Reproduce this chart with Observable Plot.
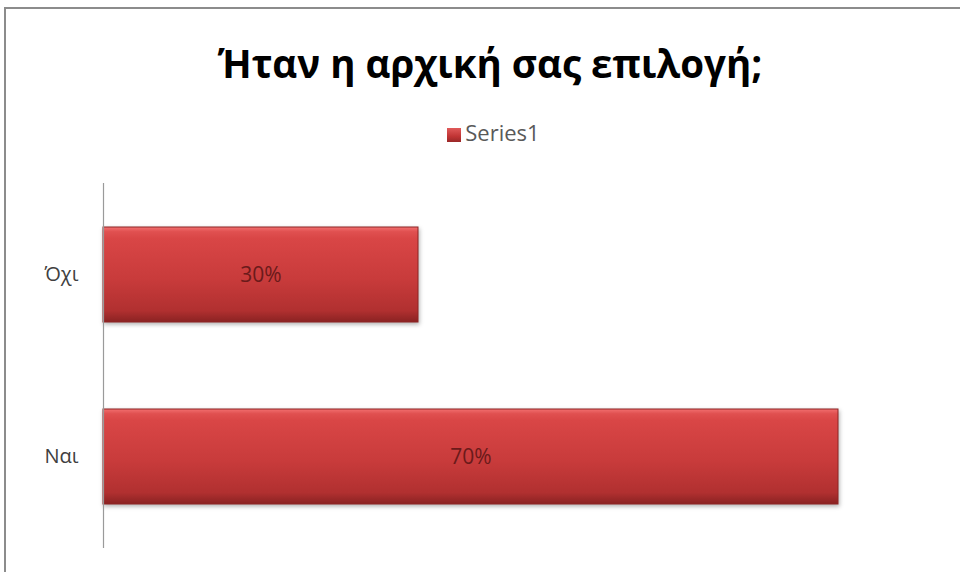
<!DOCTYPE html>
<html>
<head>
<meta charset="utf-8">
<script src="https://cdn.jsdelivr.net/npm/d3@7"></script>
<script src="https://cdn.jsdelivr.net/npm/@observablehq/plot@0.6"></script>
<style>
  html, body { margin: 0; padding: 0; background: #fff; }
  #wrap { position: relative; width: 960px; height: 572px; overflow: hidden; background: #fff; font-family: "Open Sans", "Noto Sans", sans-serif; }
  #frame { position: absolute; left: 4px; top: 7px; width: 980px; height: 600px; border-left: 2px solid #8c8c8c; border-top: 2px solid #8c8c8c; box-sizing: border-box; }
  #title { position: absolute; left: 0; width: 980px; top: 33px; text-align: center; font-size: 38.5px; font-weight: 700; color: #000; white-space: nowrap; line-height: 60px; }
  #legend { position: absolute; left: 0; width: 987px; top: 116px; text-align: center; font-size: 22px; color: #595959; line-height: 32px; white-space: nowrap; }
  #legend .sw { display: inline-block; width: 14px; height: 14px; margin-right: 4px; vertical-align: -1px; background: linear-gradient(#e05a5a, #c03434 60%, #9a2828); }
  #chart { position: absolute; left: 0; top: 170px; }
</style>
</head>
<body>
<div id="wrap">
  <div id="frame"></div>
  <div id="title">Ήταν η αρχική σας επιλογή;</div>
  <div id="legend"><span class="sw"></span>Series1</div>
  <div id="chart"></div>
</div>
<script>
const categories = ["Όχι", "Ναι"];
const values = [0.30, 0.70];
const seriesName = "Series1";

const data = categories.map((c, i) => ({category: c, value: values[i]}));

const plot = Plot.plot({
  width: 960,
  height: 402,
  marginTop: 13,
  marginBottom: 24,
  marginLeft: 103,
  marginRight: 17,
  style: {fontFamily: "'Open Sans', 'Noto Sans', sans-serif", background: "transparent", color: "#404040"},
  x: {domain: [0, 0.8], axis: null},
  y: {domain: categories, paddingInner: 0.48, paddingOuter: 0.24, label: null},
  marks: [
    Plot.barX(data, {x: "value", y: "category", fill: "url(#barGrad)", stroke: "#8e2525", strokeWidth: 1}),
    Plot.ruleX([0], {stroke: "#9a9a9a", strokeWidth: 1.2}),
    Plot.text(data, {x: d => d.value / 2, y: "category", text: d => d3.format(".0%")(d.value), fill: "#6a1a1a", fontSize: 21}),
    Plot.axisY({tickSize: 0, tickPadding: 25, fontSize: 20, label: null})
  ]
});

const svg = d3.select(plot);
const defs = svg.insert("defs", ":first-child");
const g = defs.append("linearGradient").attr("id", "barGrad").attr("x1", 0).attr("y1", 0).attr("x2", 0).attr("y2", 1);
[["0%", "#f27070"], ["5%", "#e05050"], ["12%", "#d94646"], ["55%", "#c83b3b"], ["88%", "#b13030"], ["100%", "#8a2222"]]
  .forEach(([o, c]) => g.append("stop").attr("offset", o).attr("stop-color", c));
svg.selectAll('g[aria-label="bar"]').style("filter", "drop-shadow(1px 2px 2px rgba(0,0,0,0.3))");

document.getElementById("chart").appendChild(plot);
</script>
</body>
</html>
